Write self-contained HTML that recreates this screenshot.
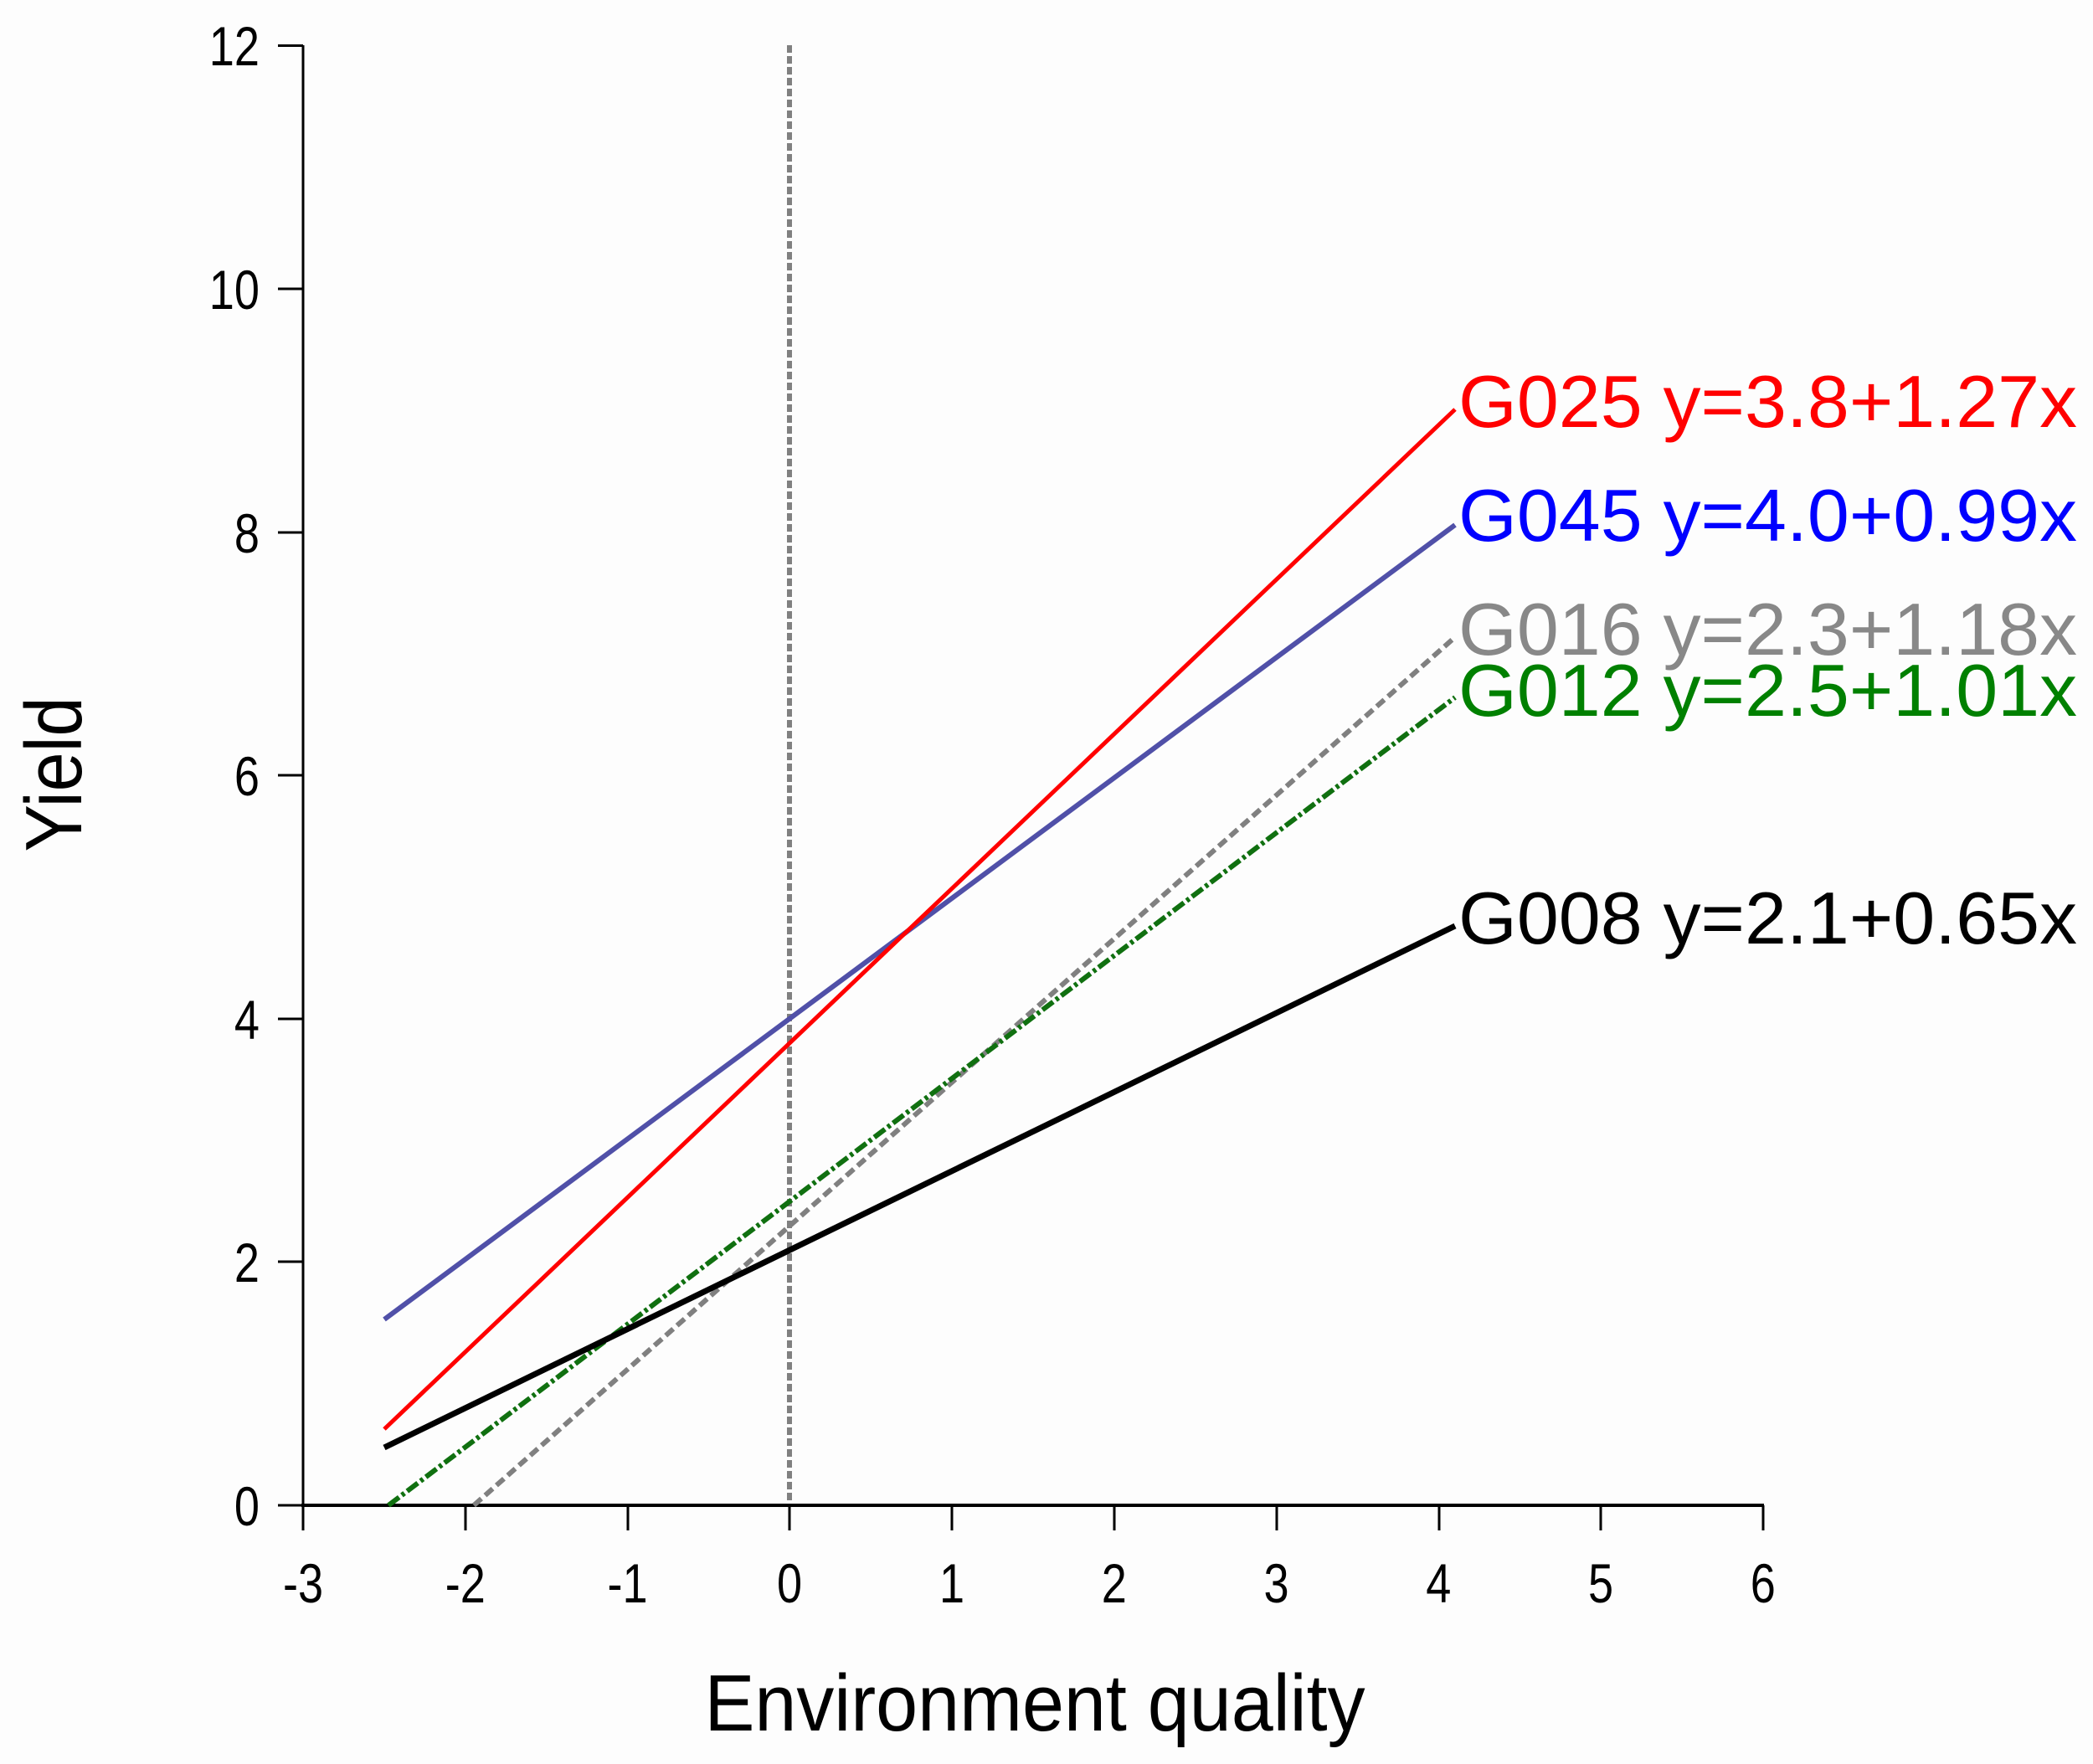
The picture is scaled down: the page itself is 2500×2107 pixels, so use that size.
<!DOCTYPE html>
<html><head><meta charset="utf-8"><style>
html,body{margin:0;padding:0;background:#fdfdfd;}
svg{display:block;}
text{font-family:"Liberation Sans",Arial,sans-serif;}
</style></head><body>
<svg width="2500" height="2107" viewBox="0 0 2500 2107" xmlns="http://www.w3.org/2000/svg">
<rect width="2500" height="2107" fill="#fdfdfd"/>
<line x1="943" y1="54" x2="943" y2="1798" stroke="#808080" stroke-width="6" stroke-dasharray="9,4"/>
<line x1="362" y1="54" x2="362" y2="1800" stroke="#000" stroke-width="3"/>
<line x1="360" y1="1798" x2="2107" y2="1798" stroke="#000" stroke-width="4"/>
<g stroke="#000" stroke-width="3">
<line x1="332" y1="54.5" x2="362" y2="54.5"/>
<line x1="332" y1="345" x2="362" y2="345"/>
<line x1="332" y1="636" x2="362" y2="636"/>
<line x1="332" y1="926" x2="362" y2="926"/>
<line x1="332" y1="1217" x2="362" y2="1217"/>
<line x1="332" y1="1507" x2="362" y2="1507"/>
<line x1="332" y1="1798" x2="362" y2="1798"/>
<line x1="362" y1="1798" x2="362" y2="1828"/>
<line x1="556" y1="1798" x2="556" y2="1828"/>
<line x1="750" y1="1798" x2="750" y2="1828"/>
<line x1="943" y1="1798" x2="943" y2="1828"/>
<line x1="1137" y1="1798" x2="1137" y2="1828"/>
<line x1="1331" y1="1798" x2="1331" y2="1828"/>
<line x1="1525" y1="1798" x2="1525" y2="1828"/>
<line x1="1719" y1="1798" x2="1719" y2="1828"/>
<line x1="1912" y1="1798" x2="1912" y2="1828"/>
<line x1="2106" y1="1798" x2="2106" y2="1828"/>
</g>
<g transform="scale(0.82,1)" font-size="66" fill="#000">
<g text-anchor="end">
<text x="378" y="78">12</text>
<text x="378" y="369">10</text>
<text x="378" y="660">8</text>
<text x="378" y="950">6</text>
<text x="378" y="1241">4</text>
<text x="378" y="1531">2</text>
<text x="378" y="1822">0</text>
</g>
<g text-anchor="middle">
<text x="441.5" y="1914">-3</text>
<text x="677.8" y="1914">-2</text>
<text x="914.1" y="1914">-1</text>
<text x="1150" y="1914">0</text>
<text x="1386.6" y="1914">1</text>
<text x="1623" y="1914">2</text>
<text x="1859.2" y="1914">3</text>
<text x="2095.5" y="1914">4</text>
<text x="2331.8" y="1914">5</text>
<text x="2568" y="1914">6</text>
</g>
</g>
<text x="1236" y="2067" font-size="96" text-anchor="middle" textLength="789" lengthAdjust="spacingAndGlyphs">Environment quality</text>
<text transform="translate(97,925) rotate(-90)" font-size="96" text-anchor="middle" textLength="185" lengthAdjust="spacingAndGlyphs">Yield</text>
<line x1="459" y1="1576" x2="1738" y2="627" stroke="#5050a8" stroke-width="6"/>
<line x1="566" y1="1798" x2="1738" y2="761" stroke="#808080" stroke-width="6" stroke-dasharray="12,6"/>
<line x1="464" y1="1798" x2="1738" y2="833" stroke="#107010" stroke-width="6" stroke-dasharray="16,4,4,4"/>
<line x1="459" y1="1729" x2="1738" y2="1106" stroke="#000" stroke-width="7"/>
<line x1="459" y1="1707" x2="1738" y2="489" stroke="#ff0000" stroke-width="5"/>
<g font-size="88">
<text x="1742" y="510" fill="#ff0000" textLength="739" lengthAdjust="spacingAndGlyphs">G025 y=3.8+1.27x</text>
<text x="1742" y="646" fill="#0000ff" textLength="739" lengthAdjust="spacingAndGlyphs">G045 y=4.0+0.99x</text>
<text x="1742" y="782" fill="#888888" textLength="739" lengthAdjust="spacingAndGlyphs">G016 y=2.3+1.18x</text>
<text x="1742" y="855" fill="#008000" textLength="739" lengthAdjust="spacingAndGlyphs">G012 y=2.5+1.01x</text>
<text x="1742" y="1127" fill="#000000" textLength="739" lengthAdjust="spacingAndGlyphs">G008 y=2.1+0.65x</text>
</g>
</svg>
</body></html>
